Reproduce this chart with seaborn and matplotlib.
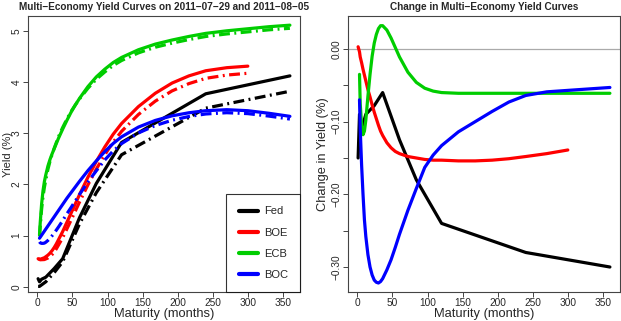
import matplotlib
matplotlib.use("Agg")
import matplotlib.pyplot as plt
import seaborn as sns

sns.set_style("ticks")
plt.rcParams["font.family"] = ["Liberation Sans", "DejaVu Sans"]

date1 = "2011-07-29"
date2 = "2011-08-05"

# Fed (Treasury) maturities in months
fed_mat = [1, 3, 6, 12, 24, 36, 60, 84, 120, 240, 360]
fed_d1 = [0.16, 0.10, 0.15, 0.19, 0.36, 0.55, 1.35, 2.02, 2.82, 3.77, 4.12]
fed_d2 = [0.01, 0.01, 0.04, 0.10, 0.28, 0.49, 1.23, 1.84, 2.58, 3.49, 3.82]
fed_chg = [-0.15, -0.09, -0.11, -0.09, -0.078, -0.06, -0.125, -0.18, -0.24, -0.28, -0.30]

# fitted curves (ECB, BOC) maturities
mat = [3, 4, 6, 8, 10, 12, 15, 18, 21, 24, 27, 30, 33, 36, 42, 48, 54, 60,
       72, 84, 96, 108, 120, 144, 168, 192, 216, 240, 270, 300, 330, 360]

ecb_d1 = [1.02, 1.25, 1.62, 1.88, 2.06, 2.19, 2.36, 2.49, 2.60, 2.70, 2.80, 2.90,
          2.99, 3.08, 3.25, 3.41, 3.55, 3.68, 3.91, 4.10, 4.25, 4.38, 4.48, 4.63,
          4.74, 4.82, 4.89, 4.95, 5.00, 5.04, 5.08, 5.11]
ecb_d2 = [0.985, 1.175, 1.515, 1.762, 1.947, 2.092, 2.295, 2.455, 2.59, 2.708, 2.82,
          2.928, 3.022, 3.112, 3.276, 3.425, 3.552, 3.669, 3.878, 4.054, 4.196, 4.322,
          4.42, 4.569, 4.679, 4.759, 4.829, 4.889, 4.939, 4.979, 5.019, 5.049]
ecb_chg = [-0.035, -0.075, -0.105, -0.118, -0.113, -0.098, -0.065, -0.035, -0.010,
           0.008, 0.020, 0.028, 0.032, 0.032, 0.026, 0.015, 0.002, -0.011, -0.032,
           -0.046, -0.054, -0.058, -0.060, -0.061, -0.061, -0.061, -0.061, -0.061,
           -0.061, -0.061, -0.061, -0.061]

boc_d1 = [0.95, 0.97, 1.01, 1.05, 1.09, 1.13, 1.19, 1.25, 1.31, 1.37, 1.43, 1.49,
          1.55, 1.61, 1.73, 1.84, 1.95, 2.06, 2.27, 2.46, 2.64, 2.80, 2.93, 3.12,
          3.25, 3.34, 3.40, 3.44, 3.46, 3.44, 3.39, 3.33]
boc_d2 = [0.88, 0.86, 0.85, 0.85, 0.855, 0.872, 0.907, 0.95, 0.999, 1.052, 1.109,
          1.168, 1.23, 1.294, 1.426, 1.55, 1.677, 1.805, 2.048, 2.268, 2.477, 2.654,
          2.797, 3.006, 3.15, 3.254, 3.327, 3.376, 3.401, 3.383, 3.335, 3.277]
boc_chg = [-0.07, -0.11, -0.16, -0.20, -0.235, -0.258, -0.283, -0.300, -0.311,
           -0.318, -0.321, -0.322, -0.320, -0.316, -0.304, -0.290, -0.273, -0.255,
           -0.222, -0.192, -0.163, -0.146, -0.133, -0.114, -0.100, -0.086, -0.073,
           -0.064, -0.059, -0.057, -0.055, -0.053]

# BOE maturities (to 25 years)
boe_mat = [1, 3, 4, 6, 8, 10, 12, 15, 18, 21, 24, 27, 30, 33, 36, 42, 48, 54, 60,
           72, 84, 96, 108, 120, 144, 168, 192, 216, 240, 270, 300]
boe_d1 = [0.55, 0.54, 0.54, 0.55, 0.56, 0.57, 0.59, 0.62, 0.66, 0.71, 0.77, 0.84,
          0.92, 1.00, 1.08, 1.26, 1.44, 1.62, 1.80, 2.14, 2.45, 2.73, 2.98, 3.19,
          3.52, 3.78, 3.98, 4.12, 4.22, 4.28, 4.31]
boe_d2 = [0.553, 0.536, 0.529, 0.531, 0.532, 0.534, 0.546, 0.564, 0.594, 0.633,
          0.683, 0.744, 0.815, 0.887, 0.961, 1.131, 1.304, 1.479, 1.656, 1.992, 2.30,
          2.578, 2.827, 3.037, 3.366, 3.626, 3.827, 3.969, 4.072, 4.136, 4.171]
boe_chg = [0.003, -0.004, -0.011, -0.019, -0.028, -0.036, -0.044, -0.056, -0.066,
           -0.077, -0.087, -0.096, -0.105, -0.113, -0.119, -0.129, -0.136, -0.141,
           -0.144, -0.148, -0.150, -0.152, -0.153, -0.153, -0.154, -0.154, -0.153,
           -0.151, -0.148, -0.144, -0.139]

names = ["Fed", "BOE", "ECB", "BOC"]
colors = ["black", "#FF0000", "#00CD00", "#0000FF"]

series = [
    (fed_mat, fed_d1, fed_d2, fed_chg),
    (boe_mat, boe_d1, boe_d2, boe_chg),
    (mat, ecb_d1, ecb_d2, ecb_chg),
    (mat, boc_d1, boc_d2, boc_chg),
]

fig = plt.figure(figsize=(6.21, 3.21), dpi=100)
ax1 = fig.add_axes([0.0451, 0.0903, 0.438, 0.860])
ax2 = fig.add_axes([0.5604, 0.0903, 0.438, 0.860])

lw = 2.3
dotdash = (0, (3.4, 1.4, 0.6, 1.4))

for name, col, (m, d1, d2, ch) in zip(names, colors, series):
    sns.lineplot(x=m, y=d1, ax=ax1, color=col, lw=lw, label=name, sort=False)
    sns.lineplot(x=m, y=d2, ax=ax1, color=col, lw=lw, linestyle=dotdash,
                 sort=False, legend=False)
    sns.lineplot(x=m, y=ch, ax=ax2, color=col, lw=lw, sort=False, legend=False)

ax2.axhline(0, color="#aaaaaa", lw=0.9, zorder=0)

ax1.set_xlim(-13.4, 374.4)
ax1.set_ylim(-0.1, 5.29)
ax2.set_xlim(-13.4, 374.4)
ax2.set_ylim(-0.3344, 0.0454)

ax1.set_xticks(range(0, 351, 50))
ax1.set_yticks(range(0, 6))
ax2.set_xticks(range(0, 351, 50))
ax2.set_yticks([0.0, -0.05, -0.10, -0.15, -0.20, -0.25, -0.30])
ax2.set_yticklabels(["0.00", "", "\u22120.10", "", "\u22120.20", "", "\u22120.30"])

for ax in (ax1, ax2):
    for s in ax.spines.values():
        s.set_visible(True)
        s.set_linewidth(0.8)
        s.set_color("#444444")
    ax.tick_params(length=3.5, width=0.7, color="#444444", labelsize=7.3, pad=1)
    ax.tick_params(axis="y", labelrotation=90)
    for t in ax.get_yticklabels():
        t.set_va("center")
    ax.set_xlabel("Maturity (months)", fontsize=9.3, labelpad=0)

ax1.set_ylabel("Yield (%)", fontsize=8)
ax1.yaxis.set_label_coords(-0.0566, 0.5)
ax2.set_ylabel("Change in Yield (%)", fontsize=9.3, labelpad=2)
ax1.set_title(f"Multi\u2212Economy Yield Curves on {date1.replace('-', chr(0x2212))} and "
              f"{date2.replace('-', chr(0x2212))}", fontsize=7.2, fontweight="bold", pad=4)
ax2.set_title("Change in Multi\u2212Economy Yield Curves", fontsize=7.2,
              fontweight="bold", pad=4)

leg = ax1.legend(loc="lower right", borderaxespad=0, fontsize=8, frameon=True,
                 fancybox=False, edgecolor="black", handlelength=1.7,
                 labelspacing=1.0, borderpad=1.1, handletextpad=0.55)
leg.get_frame().set_linewidth(0.8)
for h in leg.get_lines():
    h.set_linewidth(3)

fig.savefig("out.png", dpi=100)
